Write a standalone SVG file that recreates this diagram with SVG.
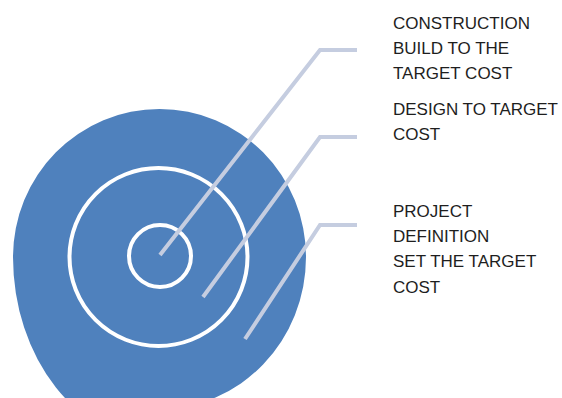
<svg xmlns="http://www.w3.org/2000/svg" width="562" height="398" viewBox="0 0 562 398">
  <style>
    .ring { fill: none; stroke: #ffffff; stroke-width: 4; }
    .leader { fill: none; stroke: #c5cde0; stroke-width: 4; stroke-linejoin: miter; }
    .label { font-family: "Liberation Sans", Arial, sans-serif; font-size: 17px; fill: #1e1e1e; }
  </style>
  <rect width="562" height="398" fill="#ffffff"/>

  <!-- target: outer disc with two white rings -->
  <g id="target">
    <path d="M 13,257 A 146.5,148 0 0,1 306,257 A 146.5,152 0 0,1 159.5,409 L 159.5,441.5 A 146.5,184.5 0 0,1 13,257 Z" fill="#4f81bd"/>
    <circle class="ring" cx="158.5" cy="257" r="89"/>
    <circle class="ring" cx="160" cy="256" r="31"/>
  </g>

  <!-- leader lines from each zone to its label -->
  <g id="connectors">
    <polyline class="leader" points="160,255 320,50 357,50"/>
    <polyline class="leader" points="203,297 320,137 357,137"/>
    <polyline class="leader" points="245,339 320,225 357,225"/>
  </g>

  <g id="label-construction">
    <text class="label" x="393" y="29">CONSTRUCTION</text>
    <text class="label" x="393" y="54">BUILD TO THE</text>
    <text class="label" x="393" y="79">TARGET COST</text>
  </g>
  <g id="label-design">
    <text class="label" x="393" y="115">DESIGN TO TARGET</text>
    <text class="label" x="393" y="140">COST</text>
  </g>
  <g id="label-project">
    <text class="label" x="393" y="217">PROJECT</text>
    <text class="label" x="393" y="242">DEFINITION</text>
    <text class="label" x="393" y="267">SET THE TARGET</text>
    <text class="label" x="393" y="293">COST</text>
  </g>
</svg>
